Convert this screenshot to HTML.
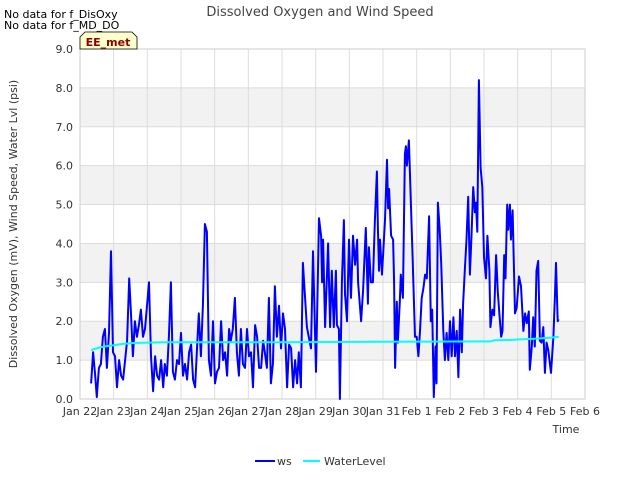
<!DOCTYPE html>
<html><head><meta charset="utf-8"><style>
body{margin:0;background:#fff;font-family:"Liberation Sans","DejaVu Sans",sans-serif}
svg text{font-family:"DejaVu Sans","Liberation Sans",sans-serif}
</style></head><body>
<svg id="chart" width="640" height="480" xmlns="http://www.w3.org/2000/svg">
<rect width="640" height="480" fill="#fff"/>
<text x="320" y="16" text-anchor="middle" font-size="13" fill="#444">Dissolved Oxygen and Wind Speed</text>
<text x="4" y="18" font-size="11" fill="#000">No data for f_DisOxy</text>
<text x="4" y="29" font-size="11" fill="#000">No data for f_MD_DO</text>
<g id="plot"></g>
<g>
<path d="M80,49 L80,37 L85,32 L132,32 L137,37 L137,49 Z" fill="#ffffcc" stroke="#000" stroke-width="0.8"/>
<text x="108" y="46" text-anchor="middle" font-size="11" font-weight="bold" fill="#8b0000">EE_met</text>
</g>
<text transform="translate(17,224) rotate(-90)" text-anchor="middle" font-size="11" fill="#333">Dissolved Oxygen (mV), Wind Speed, Water Lvl (psi)</text>
<text x="566" y="433" text-anchor="middle" font-size="11" fill="#333">Time</text>
<g>
<line x1="255" y1="461" x2="275" y2="461" stroke="#0000ff" stroke-width="2"/>
<text x="277" y="465" font-size="11" fill="#333">ws</text>
<line x1="303" y1="461" x2="320" y2="461" stroke="#00ffff" stroke-width="2"/>
<text x="324" y="465" font-size="11" fill="#333">WaterLevel</text>
</g>
</svg>
<script>
const xTickLabels=["Jan 22","Jan 23","Jan 24","Jan 25","Jan 26","Jan 27","Jan 28","Jan 29","Jan 30","Jan 31","Feb 1","Feb 2","Feb 3","Feb 4","Feb 5","Feb 6"];
const yTicks=[0,1,2,3,4,5,6,7,8,9];
const wsTimes=[0.33,0.39,0.45,0.50,0.56,0.62,0.68,0.74,0.80,0.86,0.92,0.98,1.04,1.10,1.16,1.22,1.28,1.34,1.40,1.46,1.51,1.57,1.63,1.69,1.75,1.81,1.87,1.93,1.99,2.05,2.11,2.17,2.23,2.29,2.35,2.41,2.47,2.52,2.58,2.64,2.70,2.76,2.82,2.88,2.94,3.00,3.06,3.12,3.18,3.24,3.30,3.36,3.42,3.48,3.53,3.59,3.65,3.71,3.77,3.83,3.89,3.95,4.01,4.07,4.13,4.19,4.25,4.31,4.37,4.43,4.48,4.54,4.60,4.66,4.72,4.78,4.84,4.90,4.96,5.02,5.08,5.14,5.20,5.26,5.32,5.38,5.44,5.49,5.55,5.61,5.67,5.73,5.79,5.85,5.91,5.97,6.03,6.09,6.15,6.21,6.27,6.33,6.39,6.45,6.50,6.56,
6.62,6.74,6.86,6.92,7.01,7.10,7.16,7.19,7.22,7.28,7.37,7.43,7.48,7.54,7.60,7.63,7.69,7.72,7.78,7.84,7.87,7.93,7.99,8.02,8.05,8.11,8.17,8.23,8.26,8.35,8.41,8.49,8.55,8.58,8.64,8.70,8.76,8.82,8.85,8.88,8.91,8.97,9.06,9.12,9.15,9.18,9.24,9.30,9.33,9.36,9.41,9.44,9.50,9.53,9.59,9.65,9.68,9.71,9.77,
9.88,9.95,10.00,10.05,10.10,10.15,10.20,10.25,10.30,10.37,10.42,10.46,10.51,10.56,10.59,10.63,10.68,10.73,10.79,10.84,10.89,10.94,10.99,11.04,11.09,11.14,11.19,11.24,11.29,11.34,11.38,11.43,11.48,11.53,11.58,11.63,11.68,11.73,11.76,11.80,11.85,11.90,11.95,12.00,12.06,12.10,12.16,12.19,12.25,12.30,12.36,12.41,12.46,12.51,12.55,12.60,12.64,12.69,12.72,12.77,12.80,12.85,12.92,12.97,13.04,13.10,13.17,13.22,13.27,13.33,13.36,13.42,13.46,13.51,13.56,13.61,13.66,13.71,13.76,13.81,13.86,13.91,13.99,14.06,14.11,14.14,14.19,14.22];
const wsValues=[0.4,1.2,0.6,0.05,0.8,0.9,1.6,1.8,0.8,1.7,3.8,1.2,1.1,0.3,1.0,0.6,0.5,1.0,1.5,3.1,2.3,1.1,2.0,1.6,1.9,2.3,1.6,1.8,2.4,3.0,1.1,0.2,1.1,0.6,0.5,1.0,0.3,0.9,0.6,1.6,3.0,0.7,0.5,1.0,0.9,1.7,0.6,0.9,0.5,1.2,1.4,0.5,0.3,1.4,2.2,1.1,2.4,4.5,4.3,1.0,0.6,2.0,0.4,0.7,0.8,2.0,1.0,1.2,0.6,1.8,1.5,1.8,2.6,1.2,0.6,1.8,0.9,0.8,1.8,1.1,1.2,0.3,1.9,1.6,0.8,0.8,1.5,1.2,0.8,2.6,0.4,0.9,2.9,1.6,2.4,1.3,2.2,1.8,0.3,1.4,1.3,0.3,1.0,0.4,1.2,0.3,
3.5,1.85,1.3,3.8,0.7,4.65,4.2,3.0,4.1,1.85,4.0,1.85,3.3,1.85,3.3,1.9,1.8,0.0,3.0,4.6,2.7,2.0,4.1,3.3,2.6,4.2,3.45,4.1,3.0,2.0,2.8,4.4,2.45,3.9,3.0,3.0,4.6,5.85,4.4,3.3,4.1,3.2,4.6,6.15,4.9,5.4,4.2,4.1,3.0,0.8,2.5,1.45,2.5,3.2,2.6,6.3,6.5,6.0,6.65,
3.65,1.6,1.6,1.1,1.75,2.6,2.85,3.2,3.1,4.7,2.0,2.3,0.05,1.35,0.4,5.05,4.4,3.5,1.75,1.0,1.7,1.0,2.0,1.1,2.1,1.1,1.75,0.56,2.3,1.2,2.45,3.3,4.1,5.2,3.2,4.2,5.45,4.8,5.05,4.3,8.2,5.95,5.45,3.65,3.1,4.2,3.3,1.85,2.3,2.15,3.7,2.75,2.15,1.6,1.75,3.7,3.1,5.0,4.35,5.0,4.1,4.85,2.2,2.35,3.15,2.9,1.75,2.2,1.95,2.25,0.75,1.35,2.1,1.35,3.3,3.55,1.5,1.45,1.85,0.67,1.45,1.25,0.67,1.6,2.7,3.5,2.0,2.05];
const wlTimes=[0.33,0.4,0.6,0.8,1.0,1.3,1.6,2.5,6.0,9.0,12.2,12.3,12.8,13.0,13.5,14.0,14.22];
const wlValues=[1.25,1.28,1.33,1.36,1.38,1.42,1.44,1.46,1.46,1.47,1.48,1.51,1.52,1.53,1.55,1.58,1.6];

const NS="http://www.w3.org/2000/svg";
const L=80,R=585,T=49,B=399;
const xs=d=>L+(R-L)*d/15;
const ys=v=>B-(B-T)*v/9;
const g=document.getElementById('plot');
function mk(tag,attrs){const e=document.createElementNS(NS,tag);for(const k in attrs)e.setAttribute(k,attrs[k]);g.appendChild(e);return e;}
mk('rect',{x:L,y:T,width:R-L,height:B-T,fill:'#fff'});
for(let i=0;i<9;i++){if(i%2===1){const b=mk('rect',{x:L,y:ys(i+1),width:R-L,height:ys(i)-ys(i+1),fill:'#f2f2f2'});

}}
yTicks.forEach(v=>{const ln=mk('line',{x1:L,x2:R,y1:ys(v),y2:ys(v),stroke:'#dcdcdc','stroke-width':1});


const t=mk('text',{x:L-7,y:ys(v)+4,'text-anchor':'end','font-size':11,fill:'#333'});t.textContent=v.toFixed(1);

});
xTickLabels.forEach((s,i)=>{const ln=mk('line',{x1:xs(i),x2:xs(i),y1:T,y2:B,stroke:'#dcdcdc','stroke-width':1});


const t=mk('text',{x:xs(i),y:B+16,'text-anchor':'middle','font-size':11,fill:'#333'});t.textContent=s;

});
mk('rect',{x:L,y:T,width:R-L,height:B-T,fill:'none',stroke:'#ccc'});
const ws=mk('polyline',{points:wsTimes.map((d,i)=>xs(d).toFixed(1)+','+ys(wsValues[i]).toFixed(1)).join(' '),fill:'none',stroke:'#0000ff','stroke-width':2,'stroke-linejoin':'round'});


const wl=mk('polyline',{points:wlTimes.map((d,i)=>xs(d).toFixed(1)+','+ys(wlValues[i]).toFixed(1)).join(' '),fill:'none',stroke:'#00ffff','stroke-width':2});


</script>
</body></html>
